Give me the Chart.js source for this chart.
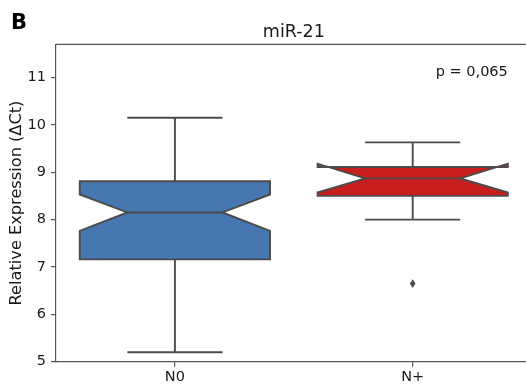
<!DOCTYPE html>
<html>
<head>
<meta charset="utf-8">
<script src="https://cdn.jsdelivr.net/npm/chart.js@4"></script>
<style>
  html, body { margin: 0; padding: 0; background: #ffffff; overflow: hidden; }
  #wrap { width: 526px; height: 385px; overflow: hidden; }
  canvas { display: block; }
</style>
</head>
<body>
<div id="wrap"><canvas id="chart" width="540" height="385"></canvas></div>
<script>
// Groups and box-plot statistics for miR-21 (relative expression, ΔCt)
const categories   = ['N0', 'N+'];
const whiskerLow   = [5.20, 8.00];
const quartile1    = [7.16, 8.50];
const medians      = [8.15, 8.87];
const quartile3    = [8.81, 9.11];
const whiskerHigh  = [10.15, 9.63];
const notchLow     = [7.76, 8.57];
const notchHigh    = [8.53, 9.18];
const outliers     = [[], [6.65]];
const boxColors    = ['#4677b0', '#c81e1e'];
const yTickValues  = [5, 6, 7, 8, 9, 10, 11];
const yMin = 5, yMax = 11.7;
const panelLetter = 'B';
const chartTitle = 'miR-21';
const pValueText = 'p = 0,065';
const yAxisLabel = 'Relative Expression (ΔCt)';

const FONT = "'DejaVu Sans', sans-serif";
const LINE = '#4b4b4b';
const SPINE = '#555555';
const TEXT = '#1a1a1a';

// Draws notched boxes, whiskers, caps, fliers and the panel texts
const notchedBoxPlugin = {
  id: 'notchedBox',
  afterDatasetsDraw(chart) {
    const { ctx, scales: { x, y }, chartArea } = chart;
    const step = x.getPixelForValue(1) - x.getPixelForValue(0);
    const boxW = step * 0.8;
    const nw = boxW * 0.25;
    ctx.save();
    ctx.lineJoin = 'miter';
    categories.forEach((_, i) => {
      const cx = x.getPixelForValue(i);
      const L = cx - boxW / 2, R = cx + boxW / 2;
      const pq1 = y.getPixelForValue(quartile1[i]);
      const pq3 = y.getPixelForValue(quartile3[i]);
      const pmed = y.getPixelForValue(medians[i]);
      const pnl = y.getPixelForValue(notchLow[i]);
      const pnh = y.getPixelForValue(notchHigh[i]);
      const pwl = y.getPixelForValue(whiskerLow[i]);
      const pwh = y.getPixelForValue(whiskerHigh[i]);

      ctx.strokeStyle = LINE;
      ctx.lineWidth = 1.9;

      // whiskers and caps
      ctx.beginPath();
      ctx.moveTo(cx, pq3); ctx.lineTo(cx, pwh);
      ctx.moveTo(cx, pq1); ctx.lineTo(cx, pwl);
      ctx.moveTo(cx - boxW / 4, pwh); ctx.lineTo(cx + boxW / 4, pwh);
      ctx.moveTo(cx - boxW / 4, pwl); ctx.lineTo(cx + boxW / 4, pwl);
      ctx.stroke();

      // notched box outline
      ctx.beginPath();
      ctx.moveTo(L, pq1);
      ctx.lineTo(L, pnl);
      ctx.lineTo(L + nw, pmed);
      ctx.lineTo(L, pnh);
      ctx.lineTo(L, pq3);
      ctx.lineTo(R, pq3);
      ctx.lineTo(R, pnh);
      ctx.lineTo(R - nw, pmed);
      ctx.lineTo(R, pnl);
      ctx.lineTo(R, pq1);
      ctx.closePath();
      ctx.fillStyle = boxColors[i];
      ctx.fill();
      ctx.stroke();

      // median line
      ctx.beginPath();
      ctx.moveTo(L + nw, pmed); ctx.lineTo(R - nw, pmed);
      ctx.stroke();

      // fliers as thin diamonds
      ctx.fillStyle = LINE;
      outliers[i].forEach(v => {
        const py = y.getPixelForValue(v);
        ctx.beginPath();
        ctx.moveTo(cx, py - 4.4);
        ctx.lineTo(cx + 2.8, py);
        ctx.lineTo(cx, py + 4.4);
        ctx.lineTo(cx - 2.8, py);
        ctx.closePath();
        ctx.fill();
      });
    });

    // top spine
    ctx.strokeStyle = SPINE;
    ctx.lineWidth = 1.2;
    ctx.beginPath();
    ctx.moveTo(chartArea.left, chartArea.top);
    ctx.lineTo(chartArea.right, chartArea.top);
    ctx.stroke();

    const midX = (chartArea.left + chartArea.right) / 2;
    const plotW = chartArea.right - chartArea.left;

    // title
    ctx.fillStyle = TEXT;
    ctx.font = '17.5px ' + FONT;
    ctx.textAlign = 'center';
    ctx.textBaseline = 'alphabetic';
    ctx.fillText(chartTitle, midX, chartArea.top - 7);

    // p-value annotation
    ctx.font = '14.5px ' + FONT;
    ctx.textAlign = 'right';
    ctx.fillText(pValueText, chartArea.left + 0.95 * plotW, chartArea.top + 32);

    // panel letter
    ctx.font = 'bold 21px ' + FONT;
    ctx.textAlign = 'left';
    ctx.fillStyle = '#000000';
    ctx.fillText(panelLetter, 11, 28.5);
    ctx.restore();
  }
};

new Chart(document.getElementById('chart'), {
  type: 'bar',
  data: {
    labels: categories,
    datasets: [{
      label: chartTitle,
      data: quartile1.map((v, i) => [v, quartile3[i]]),
      backgroundColor: 'rgba(0,0,0,0)',
      borderWidth: 0
    }]
  },
  options: {
    responsive: false,
    animation: false,
    devicePixelRatio: 1,
    layout: { padding: { left: 0, right: 8.4, top: 44.3, bottom: 0 } },
    plugins: {
      legend: { display: false },
      tooltip: { enabled: false },
      title: { display: false }
    },
    scales: {
      x: {
        type: 'category',
        offset: true,
        grid: { display: true, offset: false, drawOnChartArea: false, drawTicks: true, tickLength: 5, color: SPINE, lineWidth: 1.2 },
        border: { display: true, color: SPINE, width: 1.2 },
        ticks: { color: TEXT, padding: 2, font: { family: FONT, size: 14.5 } },
        afterFit(scale) { scale.height = 23.3; }
      },
      y: {
        type: 'linear',
        min: yMin,
        max: yMax,
        afterBuildTicks(scale) { scale.ticks = yTickValues.map(v => ({ value: v })); },
        grid: { display: true, drawOnChartArea: false, drawTicks: true, tickLength: 5, color: SPINE, lineWidth: 1.2 },
        border: { display: true, color: SPINE, width: 1.2 },
        ticks: { color: TEXT, padding: 5, font: { family: FONT, size: 14.5 } },
        title: {
          display: true,
          text: yAxisLabel,
          color: TEXT,
          font: { family: FONT, size: 16.2 },
          padding: { top: 7, bottom: 0 }
        },
        afterFit(scale) { scale.width = 56; }
      }
    }
  },
  plugins: [notchedBoxPlugin]
});
</script>
</body>
</html>
